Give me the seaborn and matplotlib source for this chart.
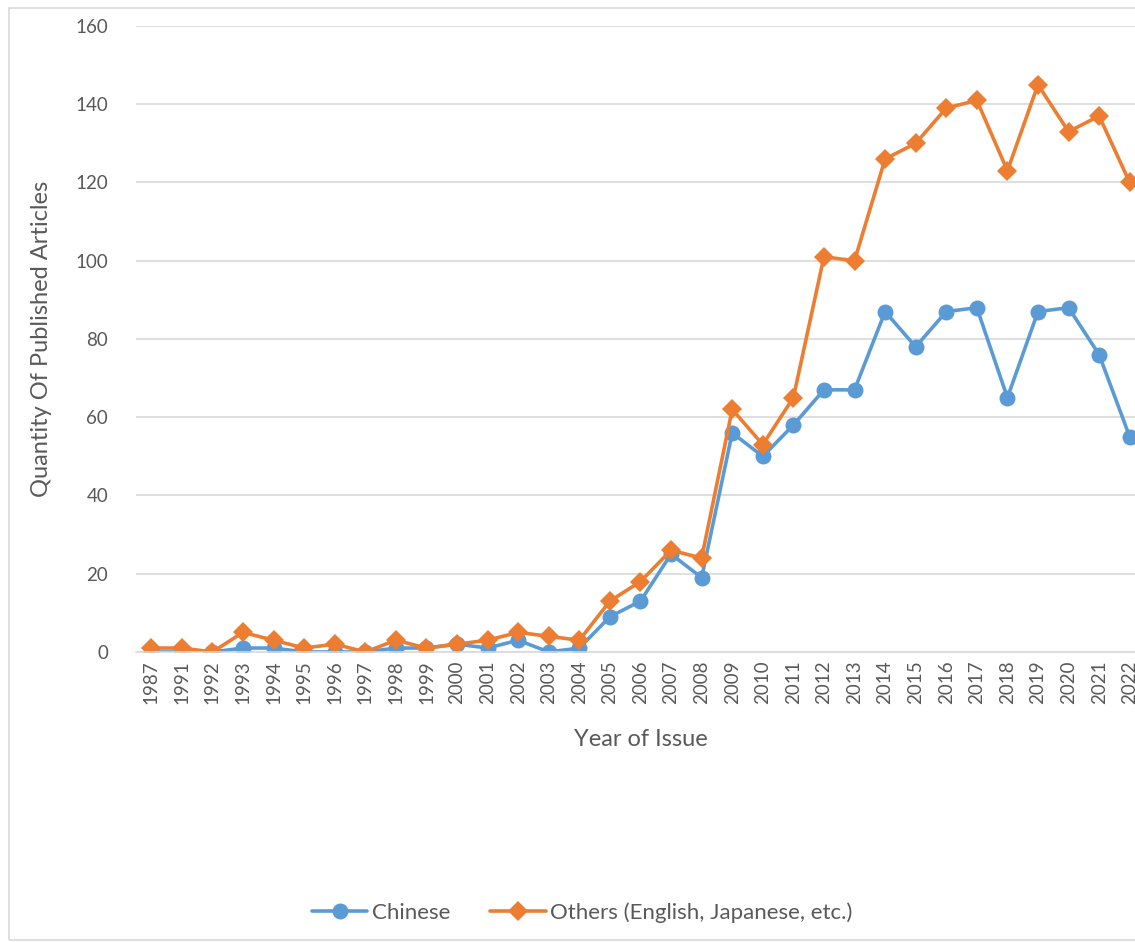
import seaborn as sns
import matplotlib.pyplot as plt
import pandas as pd
from matplotlib.patches import Rectangle

years = ["1987", "1991", "1992", "1993", "1994", "1995", "1996", "1997", "1998",
         "1999", "2000", "2001", "2002", "2003", "2004", "2005", "2006", "2007",
         "2008", "2009", "2010", "2011", "2012", "2013", "2014", "2015", "2016",
         "2017", "2018", "2019", "2020", "2021", "2022"]
chinese = [0, 0, 0, 1, 1, 0, 0, 0, 1, 1, 2, 1, 3, 0, 1, 9, 13, 25, 19, 56, 50,
           58, 67, 67, 87, 78, 87, 88, 65, 87, 88, 76, 55]
others = [1, 1, 0, 5, 3, 1, 2, 0, 3, 1, 2, 3, 5, 4, 3, 13, 18, 26, 24, 62, 53,
          65, 101, 100, 126, 130, 139, 141, 123, 145, 133, 137, 120]
series_names = ["Chinese", "Others (English, Japanese, etc.)"]

df = pd.DataFrame({
    "year": years * 2,
    "count": chinese + others,
    "lang": [series_names[0]] * len(years) + [series_names[1]] * len(years),
})

sns.set_theme(style="white")
plt.rcParams["font.family"] = ["Lato", "DejaVu Sans"]

grey = "#595959"
fig = plt.figure(figsize=(11.35, 9.42), dpi=100)
ax = fig.add_axes([0.1198, 0.3079, 0.889, 0.6645])

sns.lineplot(data=df, x="year", y="count", hue="lang", style="lang",
             markers=["o", "D"], dashes=False,
             palette=["#5B9BD5", "#ED7D31"], linewidth=2.6,
             markersize=11.5, markeredgewidth=0, ax=ax, legend=False)
for ln in ax.lines:
    ln.set_markeredgecolor(ln.get_color())
ax.lines[1].set_markersize(10)

ax.set_xlim(-0.5, len(years) - 0.5)
ax.set_ylim(0, 160)
ax.set_yticks(range(0, 161, 20))
ax.yaxis.grid(True, color="#D9D9D9", linewidth=1.2)
ax.set_axisbelow(True)
for s in ["left", "right", "top"]:
    ax.spines[s].set_visible(False)
ax.spines["bottom"].set_color("#D9D9D9")
ax.spines["bottom"].set_linewidth(1.2)
ax.tick_params(axis="x", labelrotation=90, labelsize=13.5, colors=grey, length=0, pad=6)
ax.tick_params(axis="y", labelsize=13.5, colors=grey, length=0, pad=20)
ax.set_xlabel("Year of Issue", fontsize=17, color=grey, labelpad=18)
ax.set_ylabel("Quantity Of Published Articles", fontsize=17, color=grey, labelpad=17)

handles = ax.lines[:2]
fig.legend(handles, series_names, loc="center", bbox_to_anchor=(0.513, 0.031),
           ncol=2, frameon=False, fontsize=16, labelcolor=grey,
           handlelength=2.5, columnspacing=1.8, handletextpad=0.2)

fig.patches.append(Rectangle((9 / 1135, 0.002), 1.2, 0.989, transform=fig.transFigure,
                             fill=False, edgecolor="#D9D9D9", linewidth=1.2))

fig.savefig("out.png", dpi=100)
